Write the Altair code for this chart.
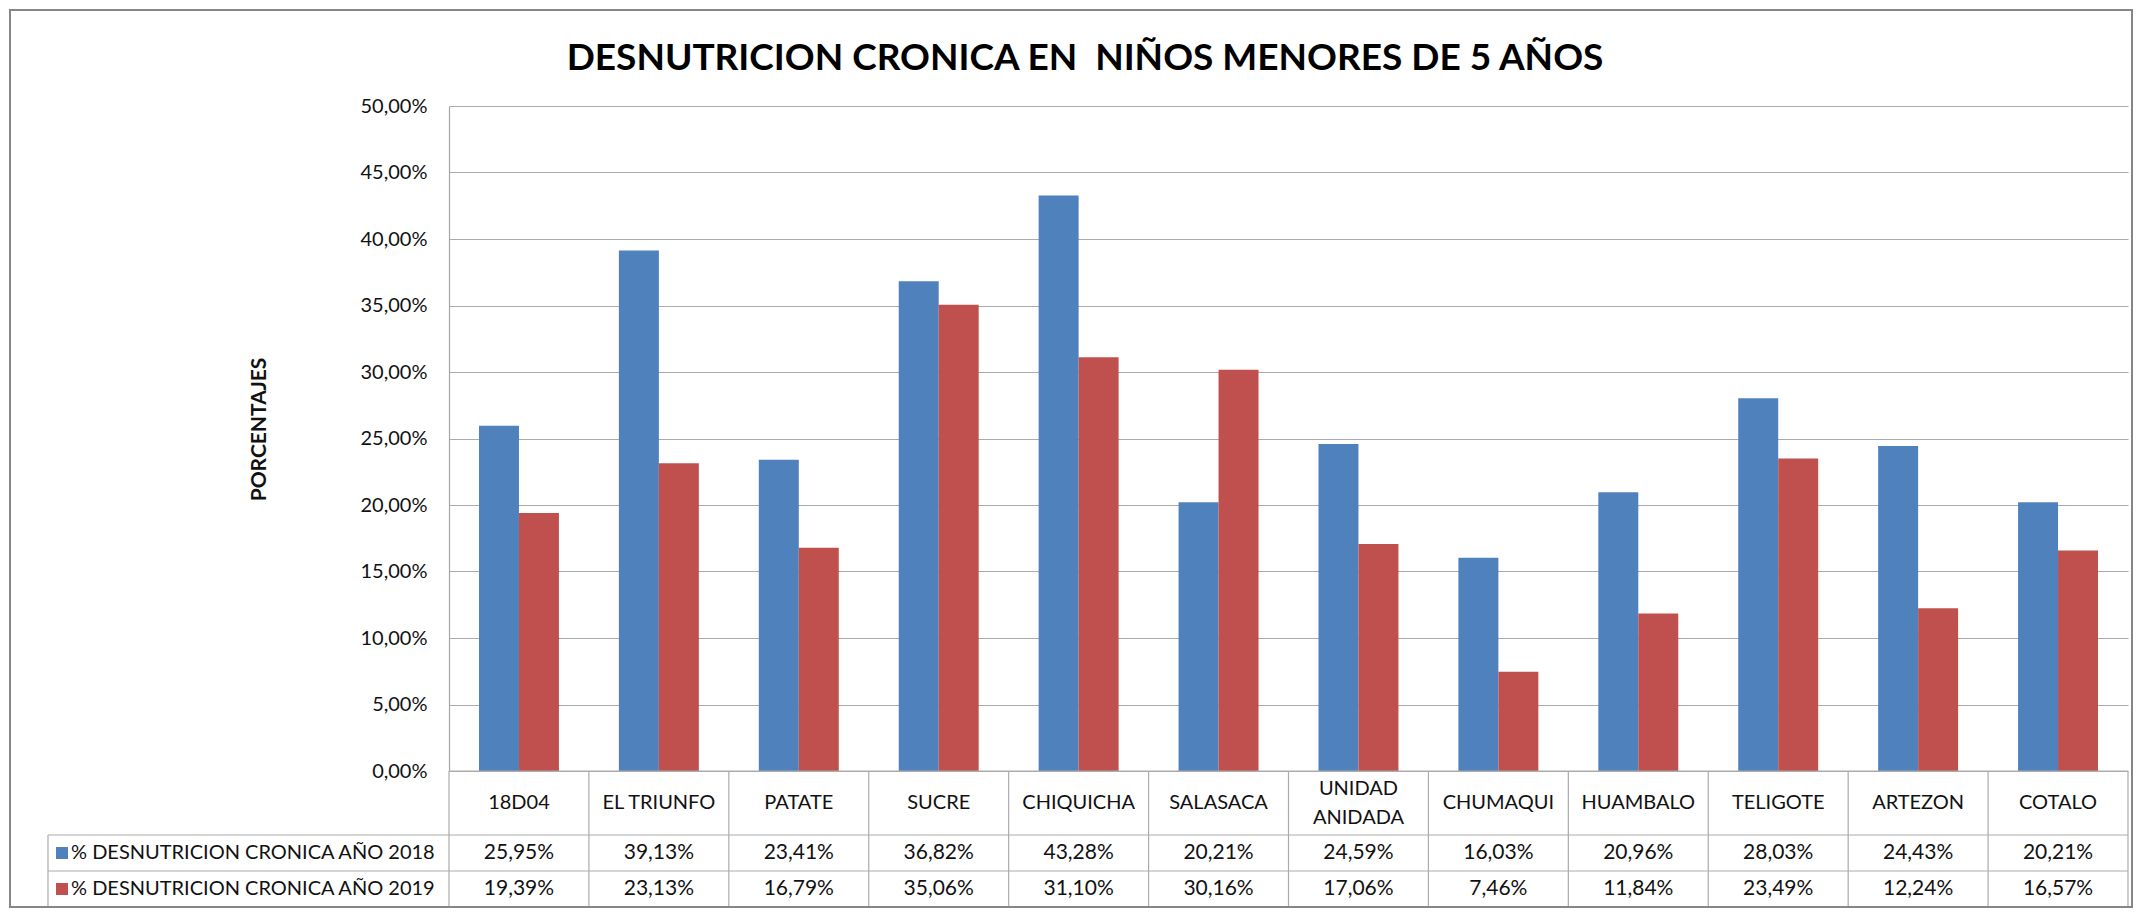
import altair as alt
import pandas as pd

# ---------------- data ----------------
categories = ["18D04", "EL TRIUNFO", "PATATE", "SUCRE", "CHIQUICHA", "SALASACA",
              "UNIDAD ANIDADA", "CHUMAQUI", "HUAMBALO", "TELIGOTE", "ARTEZON", "COTALO"]
series_names = ["% DESNUTRICION CRONICA AÑO 2018", "% DESNUTRICION CRONICA AÑO 2019"]
values_2018 = [0.2595, 0.3913, 0.2341, 0.3682, 0.4328, 0.2021,
               0.2459, 0.1603, 0.2096, 0.2803, 0.2443, 0.2021]
values_2019 = [0.1939, 0.2313, 0.1679, 0.3506, 0.3110, 0.3016,
               0.1706, 0.0746, 0.1184, 0.2349, 0.1224, 0.1657]
y_ticks = [0.0, 0.05, 0.10, 0.15, 0.20, 0.25, 0.30, 0.35, 0.40, 0.45, 0.50]
colors = ["#4F81BD", "#C0504D"]
title_text = "DESNUTRICION CRONICA EN \u00a0NIÑOS MENORES DE 5 AÑOS"
y_title = "PORCENTAJES"
two_line_labels = ["UNIDAD ANIDADA"]

rows = []
for s, vals in zip(series_names, [values_2018, values_2019]):
    for c, v in zip(categories, vals):
        rows.append({"cat": c, "series": s, "value": v})
df = pd.DataFrame(rows)
cat_df = pd.DataFrame({"cat": categories, "two": [c in two_line_labels for c in categories]})
one = pd.DataFrame({"a": [0]})

# ---------------- layout ----------------
W, H = 1679, 665
HEADER_H, ROW_H = 64, 36
row_centers = [H + HEADER_H + ROW_H / 2, H + HEADER_H + ROW_H * 1.5]
TABLE_BOTTOM = H + HEADER_H + 2 * ROW_H
LEGEND_LEFT = -401
LINE_H = 29
FONT = "Lato"
GRID = "#ABABAB"
TXT = "#111111"

xscale = alt.Scale(domain=categories, paddingInner=0, paddingOuter=0)
xenc = alt.X("cat:N", scale=xscale, axis=None)
color_scale = alt.Scale(domain=series_names, range=colors)

label_expr = "replace(format(datum.value, '.2%'), '.', ',')"

bars = alt.Chart(df).mark_bar().encode(
    x=xenc,
    xOffset=alt.XOffset("series:N", scale=alt.Scale(domain=series_names, paddingInner=0, paddingOuter=0.75)),
    y=alt.Y("value:Q", scale=alt.Scale(domain=[0, 0.5], nice=False),
            axis=alt.Axis(values=y_ticks, labelExpr=label_expr, title=y_title,
                          titleX=-190, titleY=323, titleAngle=-90, titleAlign="center",
                          titleBaseline="middle", titleFont=FONT, titleFontSize=21,
                          titleFontWeight="bold", titleColor=TXT,
                          labelFont=FONT, labelFontSize=20, labelColor=TXT, labelPadding=22,
                          ticks=False, domainColor="#A6A6A6", domainWidth=1.2,
                          grid=True, gridColor=GRID, gridWidth=1.2)),
    color=alt.Color("series:N", scale=color_scale, legend=None),
)

title = alt.Chart(one).mark_text(text=title_text, font=FONT, fontSize=37, fontWeight="bold",
                                 color="#000000", align="center", baseline="middle").encode(
    x=alt.value(636), y=alt.value(-47))

# table grid lines
hlines = []
for yy, x0 in [(H, 0), (H + HEADER_H, LEGEND_LEFT), (H + HEADER_H + ROW_H, LEGEND_LEFT), (TABLE_BOTTOM, LEGEND_LEFT)]:
    hlines.append(alt.Chart(one).mark_rule(color=GRID, strokeWidth=1.2).encode(
        x=alt.value(x0), x2=alt.value(W), y=alt.value(yy)))

vlines = alt.Chart(cat_df).mark_rule(color=GRID, strokeWidth=1.2).encode(
    x=alt.X("cat:N", scale=xscale, axis=None, bandPosition=0),
    y=alt.value(H), y2=alt.value(TABLE_BOTTOM))
vright = alt.Chart(one).mark_rule(color=GRID, strokeWidth=1.2).encode(
    x=alt.value(W), y=alt.value(H), y2=alt.value(TABLE_BOTTOM))
vleft = alt.Chart(one).mark_rule(color=GRID, strokeWidth=1.2).encode(
    x=alt.value(LEGEND_LEFT), y=alt.value(H + HEADER_H), y2=alt.value(TABLE_BOTTOM))

header1 = alt.Chart(cat_df).transform_filter("!datum.two").mark_text(
    font=FONT, fontSize=20, color=TXT, align="center", baseline="middle").encode(
    x=xenc, y=alt.value(H + HEADER_H / 2), text="cat:N")
header2 = alt.Chart(cat_df).transform_filter("datum.two").transform_calculate(
    label="split(datum.cat, ' ')"
).mark_text(font=FONT, fontSize=20, color=TXT, align="center", baseline="middle",
            lineHeight=LINE_H).encode(
    x=xenc, y=alt.value(H + HEADER_H / 2 - LINE_H / 2), text="label:N")

row_layers = []
for s, yc in zip(series_names, row_centers):
    row_layers.append(
        alt.Chart(df).transform_filter(alt.datum.series == s).transform_calculate(
            lab=label_expr
        ).mark_text(font=FONT, fontSize=21, color=TXT, align="center", baseline="middle").encode(
            x=xenc, y=alt.value(yc), text="lab:N"))
    sdf = pd.DataFrame({"series": [s]})
    row_layers.append(
        alt.Chart(sdf).mark_square(size=144, opacity=1).encode(
            x=alt.value(LEGEND_LEFT + 14), y=alt.value(yc),
            color=alt.Color("series:N", scale=color_scale, legend=None)))
    row_layers.append(
        alt.Chart(sdf).mark_text(font=FONT, fontSize=20, color=TXT, align="left", baseline="middle").encode(
            x=alt.value(LEGEND_LEFT + 23), y=alt.value(yc), text="series:N"))

border = alt.Chart(one).mark_rect(fill="transparent", stroke="#868686", strokeWidth=2).encode(
    x=alt.value(-439), x2=alt.value(1683), y=alt.value(-96), y2=alt.value(801))

chart = alt.layer(bars, title, *hlines, vlines, vright, vleft, header1, header2, *row_layers, border).properties(
    width=W, height=H,
    autosize=alt.AutoSizeParams(type="none"),
    padding={"left": 441, "top": 98, "right": 6, "bottom": 137},
    background="white",
).configure_view(stroke=None)

chart.save("out.html", embed_options={"renderer": "svg", "actions": False})
